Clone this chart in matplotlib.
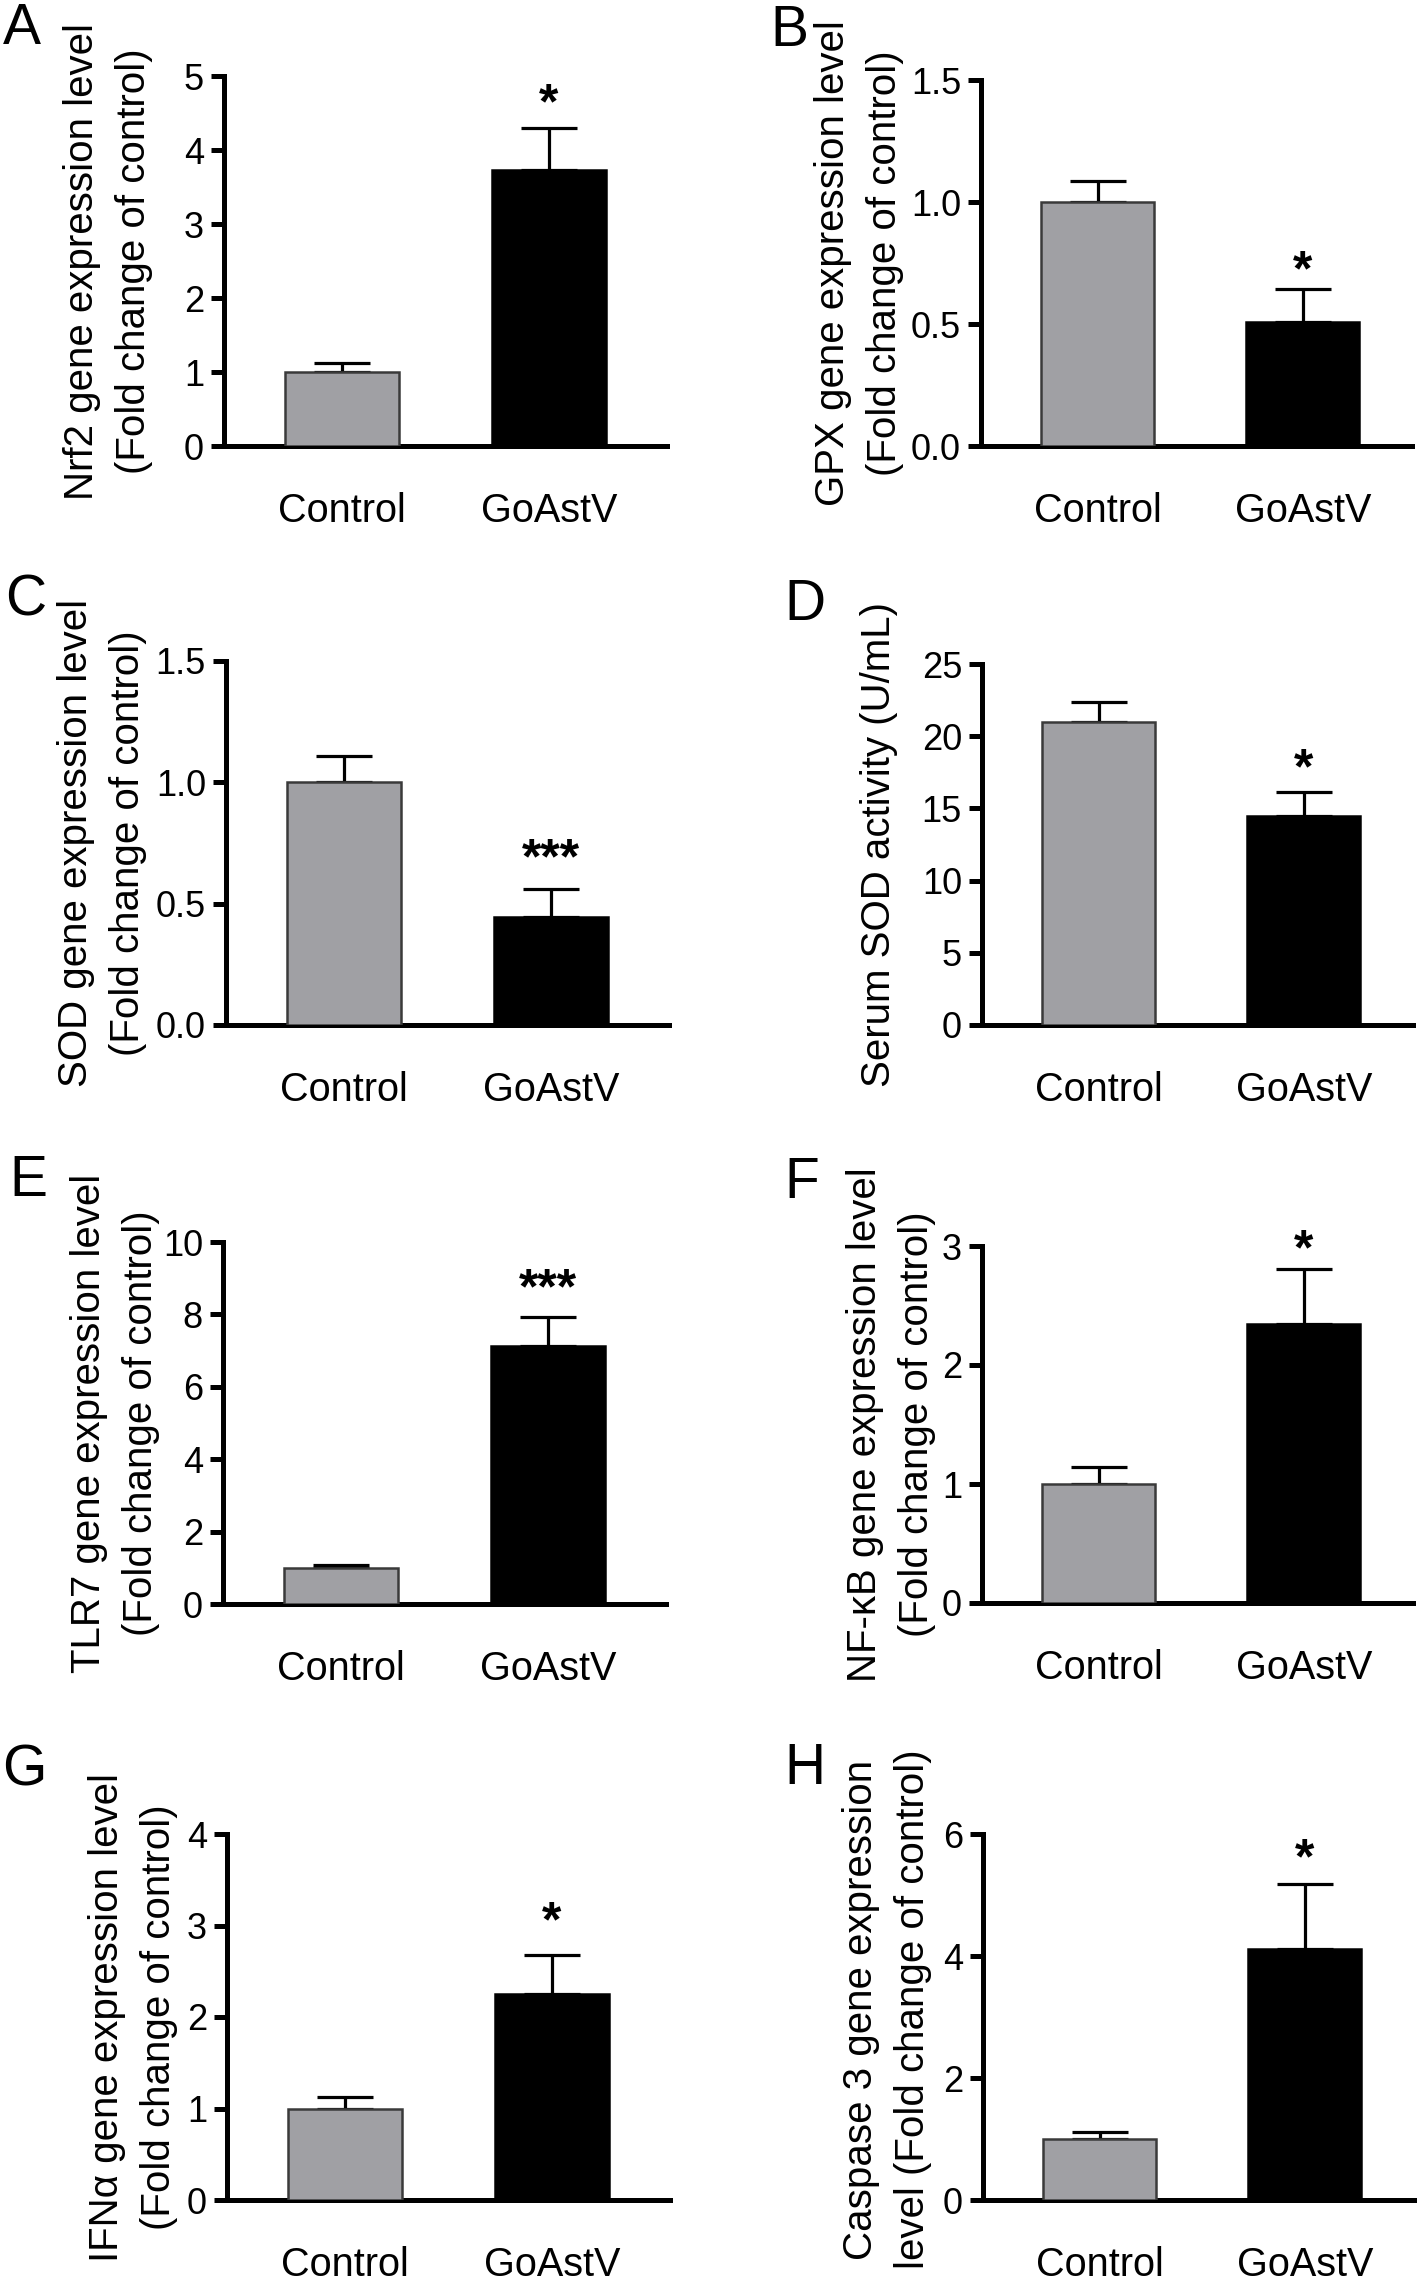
import matplotlib
matplotlib.use("Agg")
import matplotlib.pyplot as plt
import matplotlib.transforms as mtransforms
from matplotlib.ticker import FormatStrFormatter

plt.rcParams['font.family'] = ['Liberation Sans', 'DejaVu Sans']

groups = ["Control", "GoAstV"]

nrf2_mean = [1.0, 3.73]
nrf2_sem = [0.12, 0.57]
gpx_mean = [1.0, 0.51]
gpx_sem = [0.085, 0.135]
sod_mean = [1.0, 0.446]
sod_sem = [0.11, 0.113]
serum_sod_mean = [21.0, 14.48]
serum_sod_sem = [1.4, 1.68]
tlr7_mean = [1.0, 7.13]
tlr7_sem = [0.07, 0.8]
nfkb_mean = [1.0, 2.345]
nfkb_sem = [0.145, 0.465]
ifna_mean = [1.0, 2.254]
ifna_sem = [0.125, 0.42]
casp3_mean = [1.0, 4.11]
casp3_sem = [0.12, 1.07]

panel_letters = ["A", "B", "C", "D", "E", "F", "G", "H"]
ylabels = [
    "Nrf2 gene expression level\n(Fold change of control)",
    "GPX gene expression level\n(Fold change of control)",
    "SOD gene expression level\n(Fold change of control)",
    "Serum SOD activity (U/mL)",
    "TLR7 gene expression level\n(Fold change of control)",
    "NF-\u03baB gene expression level\n(Fold change of control)",
    "IFN\u03b1 gene expression level\n(Fold change of control)",
    "Caspase 3 gene expression\nlevel (Fold change of control)",
]
means = [nrf2_mean, gpx_mean, sod_mean, serum_sod_mean, tlr7_mean, nfkb_mean, ifna_mean, casp3_mean]
sems = [nrf2_sem, gpx_sem, sod_sem, serum_sod_sem, tlr7_sem, nfkb_sem, ifna_sem, casp3_sem]
ymaxs = [5, 1.5, 1.5, 25, 10, 3, 4, 6]
ysteps = [1, 0.5, 0.5, 5, 2, 1, 1, 2]
yfmts = ["%d", "%.1f", "%.1f", "%d", "%d", "%d", "%d", "%d"]
star_text = ["*", "*", "***", "*", "***", "*", "*", "*"]
star_y = [4.82, 0.775, 0.742, 18.7, 9.09, 3.09, 3.2, 5.82]

W, H = 1418, 2278
fig = plt.figure(figsize=(W / 100, H / 100), dpi=100)

# axes rects in pixels: (left spine x, top y, right x, bottom y)
rects = [
    (224, 76, 667, 446), (981, 80, 1412, 446),
    (226, 661, 669, 1025), (982, 664, 1413, 1025),
    (223, 1242, 666, 1604), (982, 1246, 1413, 1603),
    (227, 1834, 670, 2200), (983, 1834, 1414, 2200),
]
label_off = [-116, -122, -124, -103, -108, -91, -94, -96]
label_y = [0.5, 0.5, 0.5, 0.5, 0.5, 0.5, 0.5, 0.52]
letter_pos = [(3, 12), (770, 14), (5, 584), (784, 588), (9, 1164), (784, 1166), (2, 1754), (784, 1752)]

gray = '#A0A0A4'
lw_axis = 3.6
star_fs = 36

for i in range(8):
    l, t, r, b = rects[i]
    ax = fig.add_axes([l / W, 1 - b / H, (r - l) / W, (b - t) / H])
    x = [0, 1]
    ax.bar(x, means[i], width=0.55, color=[gray, 'black'],
           edgecolor=['#3a3a3a', 'black'], linewidth=1.8, zorder=3)
    ax.errorbar(x, means[i], yerr=[[0, 0], sems[i]], fmt='none', ecolor='black',
                elinewidth=2.3, capsize=20, capthick=2.3, zorder=2)
    unit = 205 if (i % 2) else 207
    ax.set_xlim(-0.57, -0.57 + (r - l) / unit)
    ax.set_ylim(0, ymaxs[i])
    n = int(round(ymaxs[i] / ysteps[i]))
    ax.set_yticks([k * ysteps[i] for k in range(n + 1)])
    ax.yaxis.set_major_formatter(FormatStrFormatter(yfmts[i]))
    ax.set_xticks(x)
    ax.set_xticklabels(groups, fontsize=28.5)
    ax.tick_params(axis='x', length=0, pad=33)
    ax.tick_params(axis='y', length=9.4, width=lw_axis, labelsize=26, pad=5)
    for s in ['top', 'right']:
        ax.spines[s].set_visible(False)
    for s in ['left', 'bottom']:
        ax.spines[s].set_linewidth(lw_axis)
        ax.spines[s].set_capstyle('projecting')
    ax.set_ylabel(ylabels[i], fontsize=29, linespacing=1.45, va='center')
    ax.yaxis.set_label_coords(label_off[i] / (r - l), label_y[i])
    off = mtransforms.offset_copy(ax.transData, fig=fig, x=0, y=-0.575 * star_fs, units='points')
    ax.text(1, star_y[i], star_text[i], transform=off, ha='center', va='baseline',
            fontsize=star_fs, fontweight='bold', clip_on=False)
    lx, ly = letter_pos[i]
    fig.text(lx / W, 1 - (ly - 10) / H, panel_letters[i], fontsize=41, ha='left', va='top')

fig.savefig("out.png", dpi=100)
